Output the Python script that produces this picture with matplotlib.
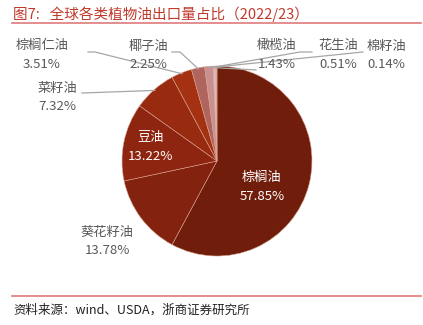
import matplotlib.pyplot as plt
import numpy as np

plt.rcParams['font.family'] = ['Noto Sans CJK SC', 'DejaVu Sans']

# data
oils = ['棕榈油', '葵花籽油', '豆油', '菜籽油', '棕榈仁油', '椰子油', '橄榄油', '花生油', '棉籽油']
shares = [57.85, 13.78, 13.22, 7.32, 3.51, 2.25, 1.43, 0.51, 0.14]
colors = ['#701E0B', '#83220E', '#8E2510', '#982A10', '#A43212', '#B0645E', '#C99090', '#DDB8B8', '#EBD8D8']

W, H = 423, 325
fig = plt.figure(figsize=(W / 100, H / 100), dpi=100)

# pie placed in pixel space: center (217,161), radius 95
cx, cy, r = 217, 161, 95
ax = fig.add_axes([(cx - r) / W, (H - cy - r) / H, 2 * r / W, 2 * r / H])
wedges, _ = ax.pie(shares, colors=colors, startangle=90, counterclock=False,
                   wedgeprops=dict(edgecolor='#D9A090', linewidth=0.4))
ax.set_xlim(-1, 1)
ax.set_ylim(-1, 1)
ax.set_aspect('equal')
ax.axis('off')


def px(x, y):
    # pixel position -> data coords of the pie axes
    return (x - cx) / r, (cy - y) / r


# label positions in pixels (name, value)
label_pos = {
    '棕榈油': (262, 178, 'w'),
    '葵花籽油': (107, 232, 'g'),
    '豆油': (150, 138, 'w'),
    '菜籽油': (57, 88, 'g'),
    '棕榈仁油': (42, 46, 'g'),
    '椰子油': (148, 46, 'g'),
    '橄榄油': (277, 46, 'g'),
    '花生油': (338, 46, 'g'),
    '棉籽油': (386, 46, 'g'),
}
for name, val in zip(oils, shares):
    x, y, c = label_pos[name]
    col = 'white' if c == 'w' else '#595959'
    tx, ty = px(x, y)
    ax.text(tx, ty, name, color=col, fontsize=9.5, ha='center', va='center')
    tx, ty = px(x, y + 19)
    ax.text(tx, ty, f'{val:.2f}%', color=col, fontsize=9.5, ha='center', va='center')

# leader lines: start points (pixels) with optional elbow
leaders = {
    '菜籽油': [(82, 93)],
    '棕榈仁油': [(88, 52), (95, 52)],
    '椰子油': [(172, 52), (180, 52)],
    '橄榄油': [(256, 70)],
    '花生油': [(312, 52), (300, 52)],
    '棉籽油': [(363, 52)],
}
cum = np.cumsum([0] + shares[:-1])
for name, val, c0 in zip(oils, shares, cum):
    if name not in leaders:
        continue
    ang = np.deg2rad(90 - 360 * (c0 + val / 2) / 100)
    pts = [px(*p) for p in leaders[name]]
    pts.append((0.99 * np.cos(ang), 0.99 * np.sin(ang)))
    xs, ys = zip(*pts)
    ax.plot(xs, ys, color='#A6A6A6', lw=0.9, clip_on=False)

# title, rules, source
fig.text(13 / W, 1 - 14 / H, '图7:   全球各类植物油出口量占比（2022/23）',
         color='#C0392B', fontsize=10.5, ha='left', va='center')
fig.add_artist(plt.Line2D([12 / W, 421 / W], [1 - 23 / H, 1 - 23 / H], color='#E07A7A', lw=1.2))
fig.add_artist(plt.Line2D([12 / W, 421 / W], [1 - 296 / H, 1 - 296 / H], color='#E07A7A', lw=1.2))
fig.text(13 / W, 1 - 310 / H, '资料来源：wind、USDA，浙商证券研究所',
         color='#222222', fontsize=9, ha='left', va='center')

fig.savefig('out.png', dpi=100)
